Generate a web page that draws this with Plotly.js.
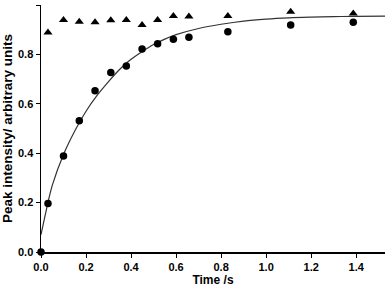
<!DOCTYPE html>
<html>
<head>
<meta charset="utf-8">
<script src="https://cdn.plot.ly/plotly-3.0.1.min.js"></script>
<style>html,body{margin:0;padding:0;background:#fff;}#chart{width:386px;height:288px;}</style>
</head>
<body>
<div id="chart"></div>
<script>
// Circles (measured intensity)
var circleX = [0, 0.031, 0.100, 0.170, 0.240, 0.310, 0.379, 0.449, 0.518, 0.588, 0.657, 0.830, 1.109, 1.387];
var circleY = [0, 0.196, 0.389, 0.531, 0.653, 0.727, 0.753, 0.822, 0.843, 0.861, 0.869, 0.892, 0.919, 0.930];
// Triangles
var triX = [0.031, 0.100, 0.170, 0.240, 0.310, 0.379, 0.449, 0.518, 0.588, 0.657, 0.830, 1.109, 1.387];
var triY = [0.889, 0.939, 0.932, 0.930, 0.938, 0.939, 0.919, 0.939, 0.955, 0.953, 0.955, 0.973, 0.966];
// Fitted curve
var fitX = [0, 0.031, 0.05, 0.1, 0.15, 0.2, 0.25, 0.3, 0.35, 0.4, 0.45, 0.5, 0.55, 0.6, 0.7, 0.8, 0.9, 1.0, 1.1, 1.2, 1.3, 1.4, 1.53];
var fitY = [0.07, 0.2, 0.27, 0.395, 0.49, 0.57, 0.635, 0.69, 0.74, 0.78, 0.812, 0.84, 0.862, 0.88, 0.905, 0.922, 0.935, 0.943, 0.948, 0.951, 0.953, 0.954, 0.955];
var xTicks = [0, 0.2, 0.4, 0.6, 0.8, 1.0, 1.2, 1.4];
var xTickText = ["0.0", "0.2", "0.4", "0.6", "0.8", "1.0", "1.2", "1.4"];
var yTicks = [0, 0.2, 0.4, 0.6, 0.8, 1.0];
var yTickText = ["0.0", "0.2", "0.4", "0.6", "0.8", "1.0"];

var traces = [
  {x: fitX, y: fitY, mode: 'lines', line: {color: '#333', width: 1.2, shape: 'spline'}, hoverinfo: 'none'},
  {x: triX, y: triY, mode: 'markers', marker: {symbol: 'triangle-up', size: 8, color: '#000'}, cliponaxis: false},
  {x: circleX, y: circleY, mode: 'markers', marker: {symbol: 'circle', size: 7.5, color: '#000'}, cliponaxis: false}
];
var fnt = {family: 'Liberation Sans, Arial, sans-serif', size: 11, color: '#000', weight: 'bold'};
var xtf = {family: 'Liberation Sans, Arial, sans-serif', size: 12, color: '#000', weight: 'bold'};
var ytf = {family: 'Liberation Sans, Arial, sans-serif', size: 13.5, color: '#000', weight: 'bold'};
var layout = {
  width: 386, height: 288,
  margin: {l: 41, r: 1, t: 5, b: 36},
  showlegend: false,
  paper_bgcolor: '#fff', plot_bgcolor: '#fff',
  font: fnt,
  xaxis: {
    range: [0, 1.528], tickvals: xTicks, ticktext: xTickText,
    showgrid: false, zeroline: false, showline: true, linecolor: '#000', linewidth: 1.5,
    ticks: 'outside', ticklen: 4, tickwidth: 1, tickcolor: '#000',
    tickfont: fnt,
    title: {text: 'Time /s', font: xtf, standoff: 3}
  },
  yaxis: {
    range: [0, 1], tickvals: yTicks, ticktext: yTickText,
    showgrid: false, zeroline: false, showline: true, linecolor: '#000', linewidth: 1.5,
    ticks: 'outside', ticklen: 4, tickwidth: 1, tickcolor: '#000',
    tickfont: fnt,
    title: {text: 'Peak intensity/ arbitrary units', font: ytf, standoff: 5}
  }
};
Plotly.newPlot('chart', traces, layout, {staticPlot: true, displayModeBar: false});
</script>
</body>
</html>
